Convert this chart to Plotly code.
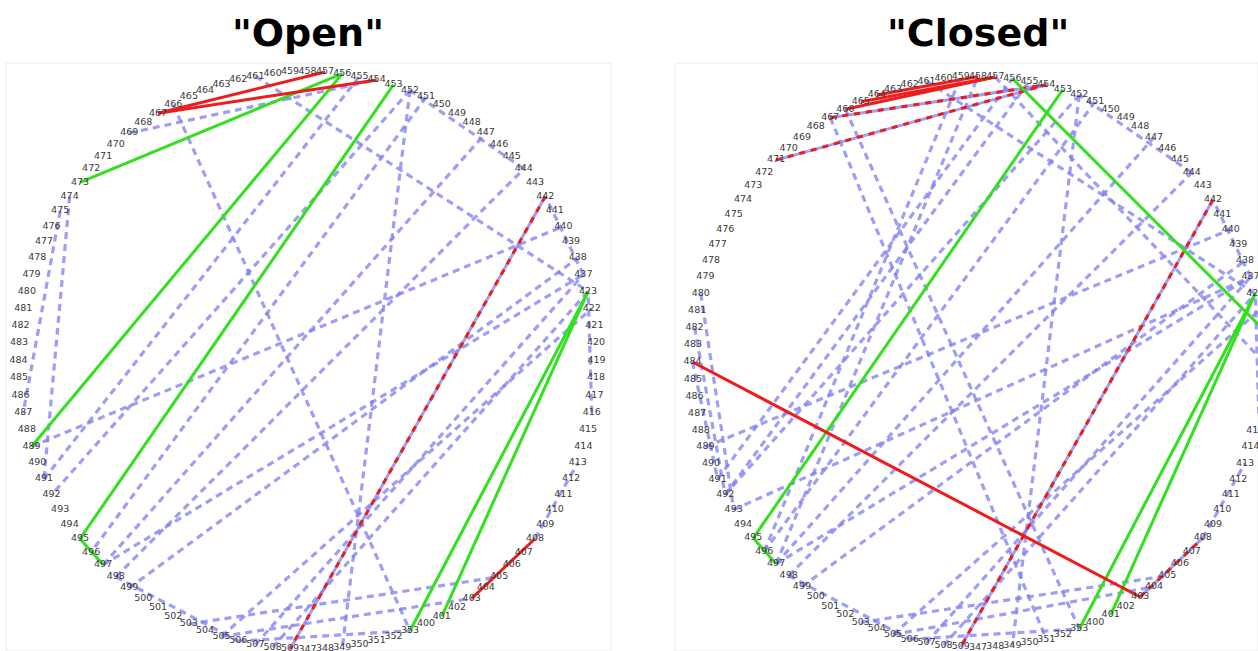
import numpy as np
import plotly.graph_objects as go

# Residues placed counter-clockwise around each wheel, starting at 400
residues = list(range(400, 424)) + list(range(437, 510)) + list(range(347, 354))
anchor_residue = 419  # sits at 3 o'clock

# ---- "Open" state contacts ----
open_green = [(473, 456), (489, 456), (495, 453), (495, 497), (423, 353), (423, 401)]
open_red = [(467, 457), (467, 454), (403, 408)]
open_red_dashed = [(442, 509)]
open_blue = [(474, 491), (475, 487), (469, 454), (466, 353), (461, 423), (452, 349),
             (491, 455), (452, 492), (451, 496), (437, 442), (416, 423), (408, 413),
             (444, 452), (498, 506), (503, 405), (505, 403), (506, 353), (505, 422),
             (507, 437), (508, 423), (497, 447), (498, 444), (497, 437), (499, 438),
             (489, 440)]

# ---- "Closed" state contacts ----
closed_green = [(456, 421), (495, 453), (495, 497), (423, 353), (423, 401)]
closed_red = [(484, 403), (466, 457), (465, 457), (464, 458)]
closed_red_dashed = [(442, 509), (471, 454), (467, 454), (403, 408)]
closed_blue = [(480, 493), (482, 492), (484, 491), (466, 353), (467, 351), (461, 423),
               (452, 349), (452, 492), (491, 456), (492, 455), (497, 458), (496, 459),
               (457, 419), (437, 442), (416, 423), (408, 413), (444, 452), (498, 506),
               (503, 405), (505, 404), (506, 353), (505, 422), (507, 437), (508, 423),
               (497, 447), (498, 444), (497, 437), (499, 438), (489, 440), (493, 437),
               (451, 496)]

W, H = 1258, 651
n = len(residues)
idx = {r: i for i, r in enumerate(residues)}


def angle(res):
    return (idx[res] - idx[anchor_residue]) * 2 * np.pi / n


def xy(res, rad=1.0):
    a = angle(res)
    return rad * np.cos(a), rad * np.sin(a)


def chord_trace(pairs, color, width, dash, xa, ya):
    xs, ys = [], []
    for a, b in pairs:
        x0, y0 = xy(a)
        x1, y1 = xy(b)
        xs += [x0, x1, None]
        ys += [y0, y1, None]
    return go.Scatter(x=xs, y=ys, mode="lines", xaxis=xa, yaxis=ya,
                      line=dict(color=color, width=width, dash=dash),
                      hoverinfo="skip", showlegend=False)


fig = go.Figure()

BLUE = "rgba(125,125,240,0.75)"
GREEN = "#33e01f"
RED = "#ee1c1c"

panels = [
    # (title, green, red, red_dashed, blue, axis suffix, centre px, radius px, x px span)
    ('"Open"', open_green, open_red, open_red_dashed, open_blue, "", (307.5, 360.5), 289.0, (6, 611)),
    ('"Closed"', closed_green, closed_red, closed_red_dashed, closed_blue, "2", (978.0, 362.0), 285.5, (675, 1258)),
]

layout_axes = {}
for title, green, red, red_d, blue, sfx, (cx, cy), rad, (px0, px1) in panels:
    xa, ya = "x" + sfx, "y" + sfx
    top_px, bot_px = 63, 651
    xr = [(px0 - cx) / rad, (px1 - cx) / rad]
    yr = [(cy - bot_px) / rad, (cy - top_px) / rad]
    layout_axes["xaxis" + sfx] = dict(range=xr, domain=[px0 / W, px1 / W], visible=False, fixedrange=True)
    layout_axes["yaxis" + sfx] = dict(range=yr, domain=[1 - bot_px / H, 1 - top_px / H], visible=False, fixedrange=True)

    fig.add_trace(chord_trace(blue, BLUE, 3.2, "7px,5px", xa, ya))
    # red-over-blue dashed contacts
    fig.add_trace(chord_trace(red_d, BLUE, 3, "solid", xa, ya))
    fig.add_trace(chord_trace(red_d, RED, 3, "6px,6px", xa, ya))
    fig.add_trace(chord_trace(green, GREEN, 3, "solid", xa, ya))
    fig.add_trace(chord_trace(red, RED, 3, "solid", xa, ya))

    lx, ly = zip(*[xy(r, 1.0) for r in residues])
    fig.add_trace(go.Scatter(x=lx, y=ly, mode="text", text=[str(r) for r in residues],
                             textfont=dict(family="DejaVu Sans", size=9.5, color="#3a3a3a"),
                             textposition="middle center", xaxis=xa, yaxis=ya,
                             cliponaxis=False, hoverinfo="skip", showlegend=False))

    fig.add_shape(type="rect", xref="paper", yref="paper",
                  x0=px0 / W, x1=px1 / W, y0=0, y1=1 - top_px / H,
                  line=dict(color="#ececec", width=1), layer="below")
    fig.add_annotation(text="<b>%s</b>" % title, xref="paper", yref="paper",
                       x=cx / W, y=1 - 33 / H, showarrow=False, xanchor="center", yanchor="middle",
                       font=dict(family="DejaVu Sans", size=38, color="#000000"))

fig.update_layout(width=W, height=H, margin=dict(l=0, r=0, t=0, b=0),
                  paper_bgcolor="white", plot_bgcolor="white", **layout_axes)

fig.write_html("out.html")
